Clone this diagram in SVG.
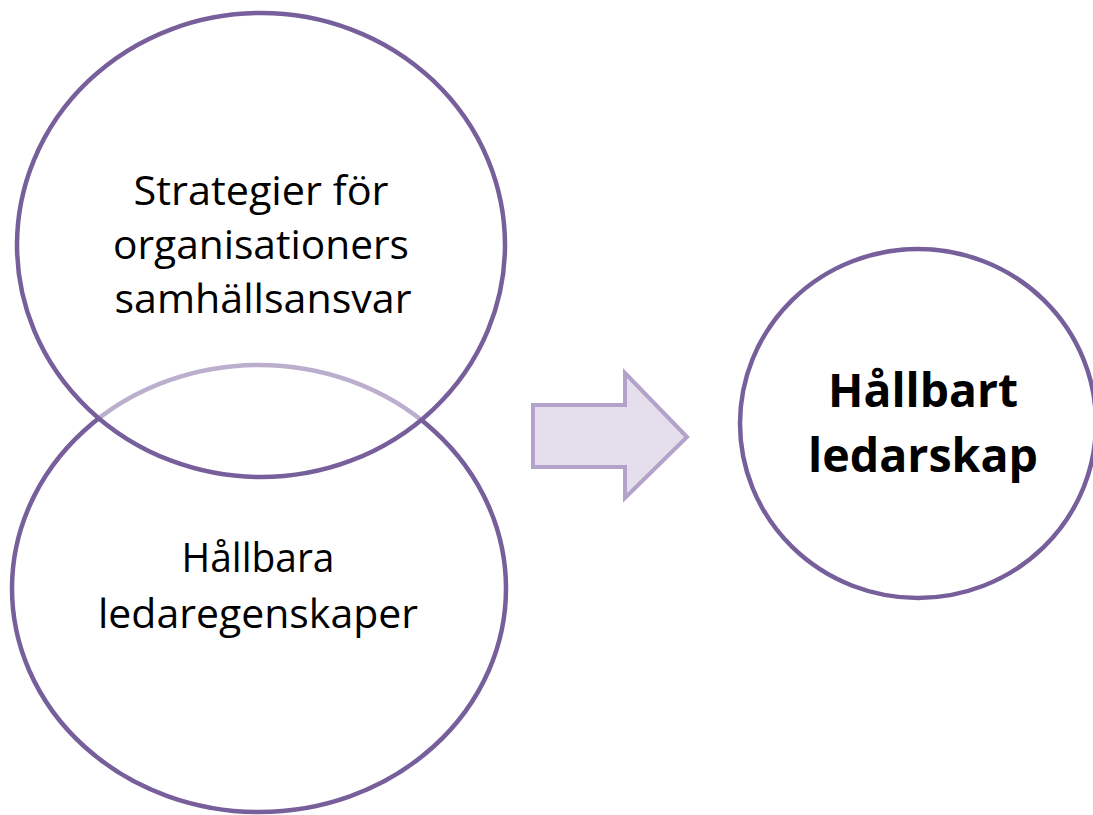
<svg xmlns="http://www.w3.org/2000/svg" width="1093" height="815" viewBox="0 0 1093 815">
<style>
.ring{stroke:#775F9B;stroke-width:4.5;}
.t{font-family:"Open Sans","Liberation Sans",sans-serif;font-size:41px;fill:#000;text-anchor:middle;}
.b{font-family:"Open Sans","Liberation Sans",sans-serif;font-size:47px;font-weight:bold;fill:#000;text-anchor:middle;}
</style>
<rect width="1093" height="815" fill="#fff"/>
<g id="node-ledaregenskaper">
<ellipse class="ring" cx="259" cy="588.5" rx="247" ry="223.5" fill="#fff"/>
</g>
<g id="node-strategier">
<ellipse class="ring" cx="261" cy="245" rx="244" ry="232" fill="#fff" fill-opacity="0.5"/>
<text class="t" x="261" y="205" textLength="255" lengthAdjust="spacingAndGlyphs">Strategier för</text>
<text class="t" x="261" y="259" textLength="296" lengthAdjust="spacingAndGlyphs">organisationers</text>
<text class="t" x="263" y="313" textLength="297" lengthAdjust="spacingAndGlyphs">samhällsansvar</text>
</g>
<g id="label-ledaregenskaper">
<text class="t" x="258" y="572" textLength="153" lengthAdjust="spacingAndGlyphs">Hållbara</text>
<text class="t" x="258" y="628" textLength="320" lengthAdjust="spacingAndGlyphs">ledaregenskaper</text>
</g>
<g id="connectors">
<path d="M533,405 L625,405 L625,373 L687,437 L625,498 L625,467 L533,467 Z" fill="#E5DEEC" stroke="#B3A2C9" stroke-width="4" stroke-linejoin="miter"/>
</g>
<g id="node-hallbart">
<ellipse class="ring" cx="918" cy="423.5" rx="178" ry="174.5" fill="#fff"/>
<text class="b" x="923" y="407" textLength="190" lengthAdjust="spacingAndGlyphs">Hållbart</text>
<text class="b" x="923" y="472" textLength="230" lengthAdjust="spacingAndGlyphs">ledarskap</text>
</g>
</svg>
